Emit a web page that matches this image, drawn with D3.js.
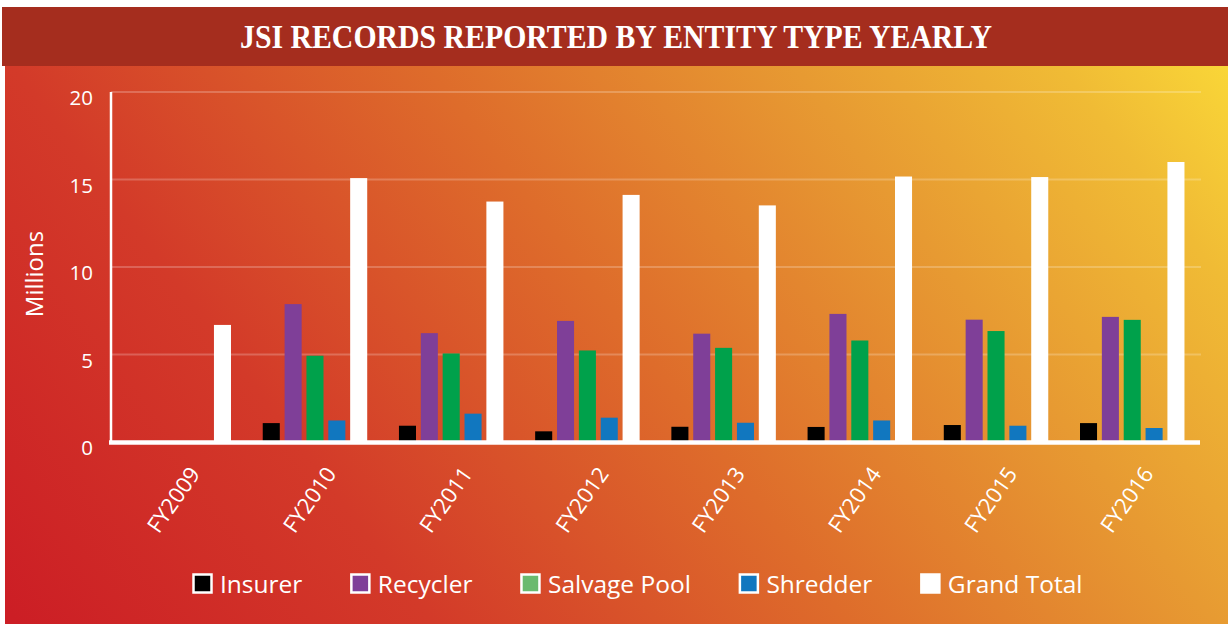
<!DOCTYPE html>
<html>
<head>
<meta charset="utf-8">
<script src="https://cdn.jsdelivr.net/npm/d3@7"></script>
<style>
  html, body { margin: 0; padding: 0; background: #ffffff; }
  svg { display: block; }
  text { font-family: "Open Sans", "Noto Sans", sans-serif; fill: #ffffff; }
</style>
</head>
<body>
<svg id="chart" width="1231" height="625"></svg>
<script>
// ---- data ----
const categories = ["FY2009", "FY2010", "FY2011", "FY2012", "FY2013", "FY2014", "FY2015", "FY2016"];
const seriesNames = ["Insurer", "Recycler", "Salvage Pool", "Shredder", "Grand Total"];
const insurer     = [0, 1.08, 0.93, 0.61, 0.87, 0.86, 0.97, 1.08];
const recycler    = [0, 7.88, 6.22, 6.92, 6.19, 7.32, 6.99, 7.15];
const salvagePool = [0, 4.93, 5.06, 5.23, 5.38, 5.80, 6.34, 6.98];
const shredder    = [0, 1.23, 1.62, 1.39, 1.10, 1.23, 0.93, 0.80];
const grandTotal  = [6.69, 15.08, 13.74, 14.12, 13.52, 15.17, 15.14, 16.00];
const yTicks = [0, 5, 10, 15, 20];
const titleText = "JSI RECORDS REPORTED BY ENTITY TYPE YEARLY";
const yTitle = "Millions";

// ---- styles ----
const barColors = ["#000000", "#7f3f98", "#00a14b", "#1177bf", "#ffffff"];
const swatchColors = ["#000000", "#7f3f98", "#6aba6f", "#1177bf", "#ffffff"];

const seriesValues = [insurer, recycler, salvagePool, shredder, grandTotal];
const table = categories.map((c, i) => ({
  cat: c,
  vals: seriesNames.map((s, j) => ({ key: s, idx: j, value: seriesValues[j][i] }))
}));

const svg = d3.select("#chart");

// background gradient
const defs = svg.append("defs");
const grad = defs.append("linearGradient").attr("id", "bg")
  .attr("gradientUnits", "userSpaceOnUse")
  .attr("x1", 120).attr("y1", 760).attr("x2", 1180).attr("y2", -40);
[[0, "#cc1e25"], [0.25, "#d33a29"], [0.5, "#de6c2b"], [0.72, "#e79a32"], [0.88, "#f0bb35"], [1, "#fbdb38"]]
  .forEach(([o, c]) => grad.append("stop").attr("offset", o).attr("stop-color", c));

svg.append("rect").attr("x", 5).attr("y", 66).attr("width", 1223).attr("height", 558)
  .attr("fill", "url(#bg)");

// title band
svg.append("rect").attr("x", 2).attr("y", 7).attr("width", 1226).attr("height", 59)
  .attr("fill", "#a52d1e");
svg.append("text")
  .attr("x", 616).attr("y", 48)
  .attr("text-anchor", "middle")
  .attr("textLength", 752).attr("lengthAdjust", "spacingAndGlyphs")
  .style("font-family", "'Liberation Serif', 'DejaVu Serif', serif")
  .style("font-weight", "bold")
  .style("font-size", "33px")
  .text(titleText);

// scales
const x0 = d3.scaleBand().domain(categories).range([111, 1200])
  .paddingInner(0.233).paddingOuter(0.114);
const x1 = d3.scaleBand().domain(seriesNames).range([0, x0.bandwidth()])
  .paddingInner(0.22).paddingOuter(0);
const y = d3.scaleLinear().domain([0, 20]).range([442, 92]);

// gridlines
svg.append("g").selectAll("line").data(yTicks.filter(d => d > 0)).join("line")
  .attr("x1", 111).attr("x2", 1201)
  .attr("y1", d => y(d)).attr("y2", d => y(d))
  .attr("stroke", "#ffffff").attr("stroke-opacity", 0.22).attr("stroke-width", 2);

// y axis
const yAxis = svg.append("g").attr("transform", "translate(111,0)")
  .call(d3.axisLeft(y).tickValues(yTicks).tickSize(0).tickPadding(18).tickFormat(d3.format("d")));
yAxis.select(".domain").remove();
yAxis.selectAll("text").attr("dy", "0.62em").style("font-size", "20.5px").attr("fill", "#fff");
svg.append("line").attr("x1", 111).attr("x2", 111).attr("y1", 92).attr("y2", 444)
  .attr("stroke", "#fff").attr("stroke-width", 2.5);

svg.append("text")
  .attr("transform", "translate(43,274) rotate(-90)")
  .attr("text-anchor", "middle")
  .style("font-size", "24px")
  .text(yTitle);

// bars
const groups = svg.append("g").selectAll("g").data(table).join("g")
  .attr("transform", d => `translate(${x0(d.cat)},0)`);
groups.selectAll("rect").data(d => d.vals).join("rect")
  .attr("x", d => x1(d.key))
  .attr("width", x1.bandwidth())
  .attr("y", d => y(d.value))
  .attr("height", d => y(0) - y(d.value))
  .attr("fill", d => barColors[d.idx]);

// x axis
const xAxis = svg.append("g").attr("transform", "translate(0,442.5)")
  .call(d3.axisBottom(x0).tickSize(0).tickPadding(0));
xAxis.select(".domain").remove();
svg.append("line").attr("x1", 109).attr("x2", 1200).attr("y1", 442.5).attr("y2", 442.5)
  .attr("stroke", "#fff").attr("stroke-width", 4.5);
xAxis.selectAll(".tick text")
  .attr("text-anchor", "end")
  .attr("dy", "0.35em")
  .attr("transform", "translate(16,27) rotate(-55)")
  .attr("y", 0)
  .style("font-size", "22px")
  .attr("fill", "#fff");

// legend
const legend = svg.append("g");
let lx = 192;
seriesNames.forEach((s, i) => {
  const g = legend.append("g").attr("transform", `translate(${lx},0)`);
  g.append("rect").attr("x", 1.5).attr("y", 574.5).attr("width", 18).attr("height", 18)
    .attr("fill", swatchColors[i]).attr("stroke", "#fff").attr("stroke-width", 2.5);
  const t = g.append("text").attr("x", 28).attr("y", 593).style("font-size", "24.5px").text(s);
  const w = t.node().getComputedTextLength();
  lx += 28 + w + 47.5;
});
</script>
</body>
</html>
